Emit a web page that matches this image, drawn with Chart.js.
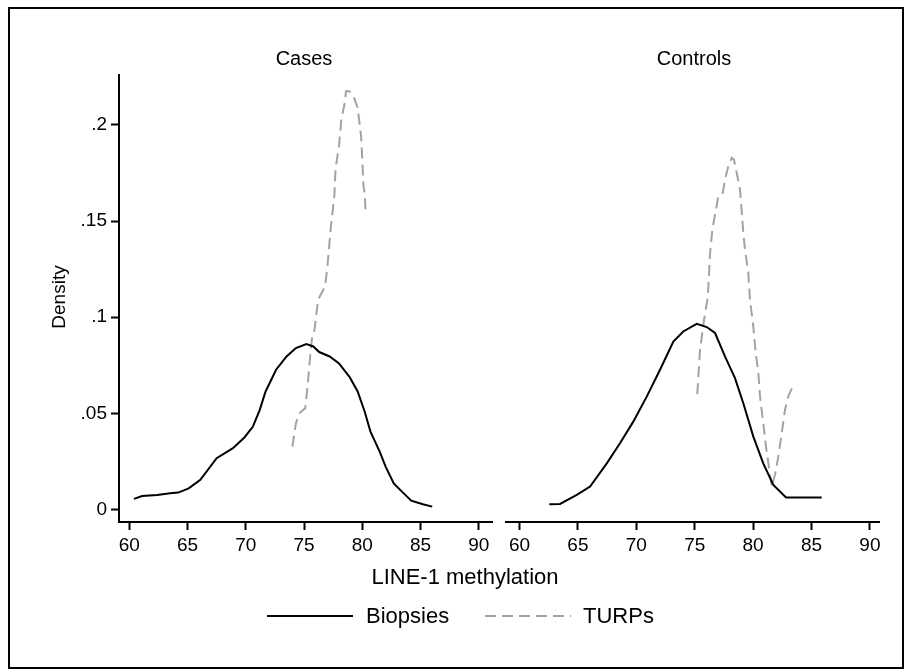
<!DOCTYPE html>
<html>
<head>
<meta charset="utf-8">
<script src="https://cdn.jsdelivr.net/npm/chart.js@4"></script>
<style>
  html, body { margin: 0; padding: 0; background: #fff; }
  #wrap { position: relative; width: 911px; height: 672px; }
  #wrap canvas { position: absolute; left: 0; top: 0; }
</style>
</head>
<body>
<div id="wrap">
  <canvas id="cases" width="911" height="672"></canvas>
  <canvas id="controls" width="911" height="672"></canvas>
</div>
<script>
// panel titles, axis ticks
const panels = ["Cases", "Controls"];
const seriesNames = ["Biopsies", "TURPs"];
const xTicks = [60, 65, 70, 75, 80, 85, 90];
const yTicks = [0, 0.05, 0.1, 0.15, 0.2];
const yTickLabels = ["0", ".05", ".1", ".15", ".2"];

// Cases - biopsies (kernel density)
const casesBiopsyX = [60.4, 61.1, 62.4, 63.5, 64.2, 65.1, 66.1, 67.5, 68.9, 69.9, 70.6, 71.2, 71.7, 72.6, 73.5, 74.3, 75.2, 75.8, 76.3, 77.2, 78.0, 78.9, 79.6, 80.2, 80.7, 81.5, 82.0, 82.7, 83.4, 84.2, 85.2, 86.0];
const casesBiopsyY = [0.0055, 0.007, 0.0076, 0.0084, 0.0088, 0.011, 0.0154, 0.0267, 0.0319, 0.0376, 0.043, 0.0518, 0.0614, 0.0727, 0.0796, 0.084, 0.086, 0.0848, 0.0819, 0.0796, 0.076, 0.069, 0.0614, 0.051, 0.0405, 0.030, 0.0223, 0.0136, 0.0093, 0.0046, 0.0027, 0.0015];

// Cases - TURPs
const casesTurpX = [74.0, 74.3, 74.6, 75.1, 75.3, 75.5, 75.7, 75.9, 76.2, 76.8, 77.0, 77.3, 77.6, 77.7, 78.0, 78.2, 78.5, 78.6, 78.9, 79.3, 79.6, 79.9, 80.0, 80.1, 80.2, 80.3];
const casesTurpY = [0.0327, 0.0449, 0.050, 0.0527, 0.064, 0.078, 0.090, 0.0935, 0.109, 0.116, 0.126, 0.147, 0.163, 0.177, 0.189, 0.203, 0.2116, 0.2176, 0.2176, 0.214, 0.209, 0.194, 0.182, 0.168, 0.1647, 0.153];

// Controls - biopsies
const controlsBiopsyX = [62.55, 63.47, 64.9, 66.04, 67.47, 68.6, 69.74, 70.89, 72.03, 73.17, 74.02, 75.17, 76.03, 76.74, 77.59, 78.45, 79.16, 80.02, 80.87, 81.73, 82.82, 85.87];
const controlsBiopsyY = [0.0027, 0.0029, 0.0076, 0.0119, 0.024, 0.0345, 0.0457, 0.0587, 0.0727, 0.0874, 0.0926, 0.0966, 0.0949, 0.0918, 0.0796, 0.0683, 0.0553, 0.0379, 0.024, 0.0128, 0.0063, 0.0063];

// Controls - TURPs
const controlsTurpX = [75.22, 75.45, 75.8, 76.08, 76.17, 76.31, 76.51, 76.88, 77.02, 77.4, 77.59, 77.88, 78.17, 78.36, 78.6, 78.88, 79.16, 79.31, 79.59, 79.73, 80.02, 80.22, 80.45, 80.59, 80.87, 81.1, 81.39, 81.59, 81.87, 82.16, 82.45, 82.73, 83.01, 83.39];
const controlsTurpY = [0.060, 0.083, 0.0987, 0.109, 0.116, 0.133, 0.1456, 0.158, 0.163, 0.1647, 0.1716, 0.1786, 0.1829, 0.182, 0.175, 0.1664, 0.1439, 0.135, 0.123, 0.109, 0.095, 0.0814, 0.071, 0.0588, 0.045, 0.0327, 0.0206, 0.0119, 0.018, 0.0275, 0.0397, 0.0518, 0.0588, 0.064];

const FONT = "'Liberation Sans', Arial, Helvetica, sans-serif";
Chart.defaults.font.family = FONT;
Chart.defaults.color = "#000";

const zip = (xs, ys) => xs.map((x, i) => ({ x, y: ys[i] }));

const biopsyStyle = { borderColor: "#000", borderWidth: 2, borderDash: [] };
const turpStyle = { borderColor: "#a3a3a3", borderWidth: 2, borderDash: [11, 6] };

function datasets(bx, by, tx, ty) {
  return [
    { label: seriesNames[0], data: zip(bx, by), ...biopsyStyle, pointRadius: 0, tension: 0, fill: false },
    { label: seriesNames[1], data: zip(tx, ty), ...turpStyle, pointRadius: 0, tension: 0, fill: false },
  ];
}

// titles, axis titles, legend and outer frame
const decorations = {
  id: "decorations",
  afterDraw(chart) {
    const ctx = chart.ctx;
    ctx.save();
    ctx.fillStyle = "#000";
    ctx.textAlign = "center";
    ctx.textBaseline = "middle";
    ctx.font = "20px " + FONT;
    ctx.fillText(panels[0], 304, 59);
    ctx.fillText(panels[1], 694, 59);

    ctx.font = "22px " + FONT;
    ctx.fillText("LINE-1 methylation", 465, 578);

    ctx.save();
    ctx.translate(60, 297);
    ctx.rotate(-Math.PI / 2);
    ctx.font = "19px " + FONT;
    ctx.fillText("Density", 0, 0);
    ctx.restore();

    // legend
    const items = [
      { x0: 267, x1: 353, tx: 366, style: biopsyStyle },
      { x0: 485, x1: 571, tx: 583, style: turpStyle },
    ];
    ctx.textAlign = "left";
    ctx.font = "22px " + FONT;
    items.forEach((it, i) => {
      ctx.beginPath();
      ctx.strokeStyle = it.style.borderColor;
      ctx.lineWidth = it.style.borderWidth;
      ctx.setLineDash(it.style.borderDash);
      ctx.moveTo(it.x0, 616);
      ctx.lineTo(it.x1, 616);
      ctx.stroke();
      ctx.setLineDash([]);
      ctx.fillText(chart.data.datasets[i].label, it.tx, 617);
    });

    ctx.strokeStyle = "#000";
    ctx.lineWidth = 2;
    ctx.strokeRect(9, 8, 894, 660);
    ctx.restore();
  },
};

function makeChart(id, data, showY, xmin, xmax, padding, plugins) {
  return new Chart(document.getElementById(id), {
    type: "line",
    data: { datasets: data },
    options: {
      responsive: false,
      animation: false,
      devicePixelRatio: 1,
      layout: { padding },
      plugins: { legend: { display: false }, tooltip: { enabled: false } },
      scales: {
        x: {
          type: "linear",
          min: xmin,
          max: xmax,
          afterBuildTicks: (s) => { s.ticks = xTicks.map((v) => ({ value: v })); },
          afterFit: (s) => { s.height = 40; },
          grid: { display: true, drawOnChartArea: false, drawTicks: true, tickLength: 8, tickWidth: 2, tickColor: "#000" },
          border: { display: true, color: "#000", width: 2 },
          ticks: { font: { size: 19 }, padding: 4, maxRotation: 0, autoSkip: false, color: "#000" },
        },
        y: {
          type: "linear",
          display: showY,
          min: -0.0065,
          max: 0.226,
          afterBuildTicks: (s) => { s.ticks = yTicks.map((v) => ({ value: v })); },
          afterFit: (s) => { s.width = showY ? 60 : 0; },
          grid: { display: true, drawOnChartArea: false, drawTicks: true, tickLength: 8, tickWidth: 2, tickColor: "#000" },
          border: { display: true, color: "#000", width: 2 },
          ticks: {
            font: { size: 19 },
            padding: 4,
            color: "#000",
            callback: (v) => { const i = yTicks.indexOf(v); return i >= 0 ? yTickLabels[i] : ""; },
          },
        },
      },
    },
    plugins: plugins || [],
  });
}

makeChart("cases", datasets(casesBiopsyX, casesBiopsyY, casesTurpX, casesTurpY), true,
  59.12, 91.13, { left: 59, right: 419, top: 75, bottom: 110 }, [decorations]);
makeChart("controls", datasets(controlsBiopsyX, controlsBiopsyY, controlsTurpX, controlsTurpY), false,
  58.84, 90.78, { left: 506, right: 32, top: 75, bottom: 110 });
</script>
</body>
</html>
